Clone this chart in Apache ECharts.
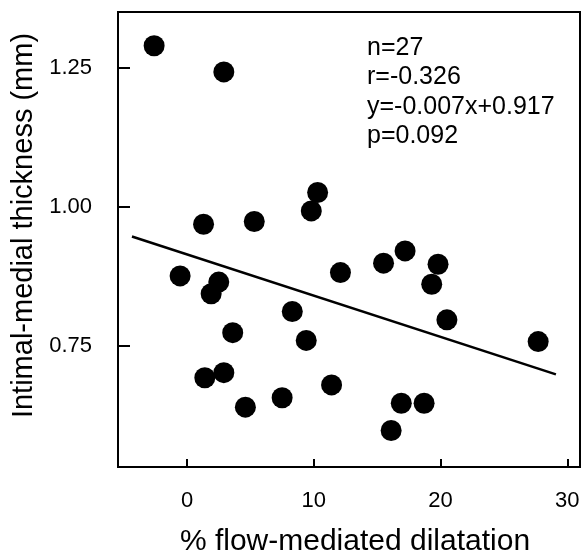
<!DOCTYPE html>
<html>
<head>
<meta charset="utf-8">
<script src="https://cdn.jsdelivr.net/npm/echarts@6/dist/echarts.min.js"></script>
<style>
  html, body { margin: 0; padding: 0; background: #fff; }
  #chart { width: 588px; height: 557px; }
</style>
</head>
<body>
<div id="chart"></div>
<script>
// % flow-mediated dilatation (x) vs intimal-medial thickness in mm (y)
var fmd = [-2.6, 2.9, 10.3, 9.8, 1.3, 5.3, 17.2, 15.5, 19.8, 12.1, 19.3, -0.55, 2.5, 1.9,
  8.3, 20.5, 3.6, 9.4, 27.7, 2.9, 1.4, 11.4, 7.5, 4.6, 16.9, 18.7, 16.1];
var imt = [1.29, 1.243, 1.026, 0.993, 0.969, 0.974, 0.921, 0.899, 0.897, 0.882, 0.861, 0.876, 0.865, 0.844,
  0.812, 0.797, 0.774, 0.76, 0.758, 0.702, 0.693, 0.68, 0.657, 0.64, 0.647, 0.647, 0.598];

// regression line ends
var fitX = [-4.35, 29.1];
var fitY = [0.947, 0.699];

var xTicks = [0, 10, 20, 30];
var yTicks = [0.75, 1.0, 1.25];

var statLines = ['n=27', 'r=-0.326', 'y=-0.007x+0.917', 'p=0.092'];

var font = '"Liberation Sans", Arial, sans-serif';

var points = fmd.map(function (x, i) { return [x, imt[i]]; });
var fitLine = fitX.map(function (x, i) { return [x, fitY[i]]; });

var chart = echarts.init(document.getElementById('chart'));
chart.setOption({
  backgroundColor: '#fff',
  animation: false,
  grid: {
    left: 118, right: 8, top: 12, bottom: 90,
    containLabel: false,
    outerBoundsMode: 'none',
    show: true, borderColor: '#000', borderWidth: 2
  },
  xAxis: {
    type: 'value',
    min: -5.45, max: 31,
    name: '% flow-mediated dilatation',
    nameLocation: 'middle',
    nameGap: 60,
    nameTextStyle: { fontFamily: font, fontSize: 30, color: '#000', padding: [0, 0, 0, 12] },
    axisLine: { show: true, onZero: false, lineStyle: { color: '#000', width: 2 } },
    axisTick: { show: true, inside: true, length: 8, customValues: xTicks, lineStyle: { color: '#000', width: 2 } },
    axisLabel: { customValues: xTicks, margin: 23, fontFamily: font, fontSize: 22, color: '#000' },
    splitLine: { show: false }
  },
  yAxis: {
    type: 'value',
    min: 0.5324, max: 1.3507,
    name: 'Intimal-medial thickness (mm)',
    nameLocation: 'middle',
    nameGap: 74,
    nameTextStyle: { fontFamily: font, fontSize: 29, color: '#000', padding: [0, 0, 0, 28] },
    axisLine: { show: true, onZero: false, lineStyle: { color: '#000', width: 2 } },
    axisTick: { show: true, inside: true, length: 12, customValues: yTicks, lineStyle: { color: '#000', width: 2 } },
    axisLabel: {
      customValues: yTicks, margin: 26, fontFamily: font, fontSize: 22, color: '#000',
      formatter: function (v) { return v.toFixed(2); }
    },
    splitLine: { show: false }
  },
  graphic: [{
    type: 'text',
    left: 367,
    top: 33,
    style: {
      text: statLines.join('\n'),
      font: '25px ' + font,
      lineHeight: 29.5,
      fill: '#000'
    }
  }],
  series: [
    {
      type: 'line',
      data: fitLine,
      symbol: 'none',
      lineStyle: { color: '#000', width: 2.5 },
      z: 1
    },
    {
      type: 'scatter',
      data: points,
      symbolSize: 21,
      itemStyle: { color: '#000', opacity: 1 },
      z: 2
    }
  ]
});
</script>
</body>
</html>
